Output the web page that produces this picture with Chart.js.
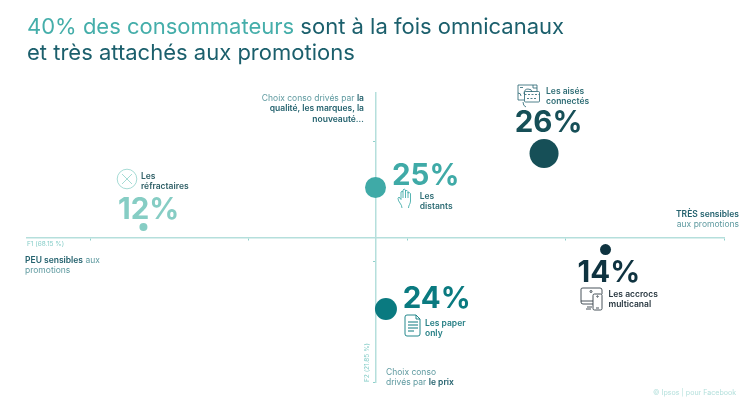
<!DOCTYPE html>
<html lang="fr">
<head>
<meta charset="utf-8">
<title>Ipsos pour Facebook</title>
<script src="https://cdn.jsdelivr.net/npm/chart.js@4"></script>
<style>
html,body{margin:0;padding:0;background:#fff;}
#page{position:relative;width:750px;height:409px;overflow:hidden;font-family:Inter,sans-serif;}
#cv{position:absolute;left:0;top:0;}
.t{position:absolute;white-space:nowrap;font-size:8.5px;line-height:10.4px;color:#5f9aa0;}
.t b{font-weight:600;color:#24626e;}
#titre{left:27px;top:13px;font-size:22px;line-height:26px;color:#1b5f6c;}
#titre span{color:#45aeaa;}
svg{position:absolute;fill:none;}
</style>
</head>
<body>
<div id="page">
<canvas id="cv" width="750" height="409"></canvas>
<div class="t" id="titre"><span>40% des consommateurs</span> sont à la fois omnicanaux<br>et très attachés aux promotions</div>
<div class="t" style="right:386px;top:93px;text-align:right">Choix conso drivés par <b>la<br>qualité, les marques, la<br>nouveauté…</b></div>
<div class="t" style="right:11px;top:209px;text-align:right"><b>TRÈS sensibles</b><br>aux promotions</div>
<div class="t" style="left:25px;top:255px"><b>PEU sensibles</b> aux<br>promotions</div>
<div class="t" style="left:386px;top:367px">Choix conso<br>drivés par <b>le prix</b></div>
<div class="t" style="left:27px;top:240px;font-size:6.5px;line-height:8px;color:#86cdc8">F1 (68.15 %)</div>
<div class="t" style="left:363px;top:382px;font-size:6.5px;line-height:8px;color:#86cdc8;transform-origin:0 0;transform:rotate(-90deg)">F2 (21.85 %)</div>
<div class="t" style="left:653px;top:388px;font-size:7.1px;color:#b4e0dc">© Ipsos | pour Facebook</div>

<svg style="left:116px;top:168px" width="22" height="22" stroke="#8fd2ca" stroke-width="0.8"><circle cx="11" cy="11" r="9.8"/><path d="M6 6L16 16M16 6L6 16"/></svg>
<svg style="left:397px;top:187px" width="18" height="23" stroke="#45aeaa" stroke-width="0.9"><path d="M5 21C5 17 1 15 1 11.500L2 10L4 12.500V5Q5 3.500 6 5V3Q7 1 8.500 3V4Q10 2.500 11 4.500V6Q12.500 5 13.500 6.500V14C13.500 17 11.500 18 11.500 21M6 5V11M8.500 3V11M11 5V11"/></svg>
<svg style="left:516px;top:84px" width="25" height="24" stroke="#24626e" stroke-width="0.8"><path d="M8 16H2V1H21V7M4 3.500H7M17 1V4H21M2 9Q5 9 5 12"/><path d="M8 10Q8 5 12 5T16 8"/><rect x="8.500" y="7.500" width="15" height="10.500" rx="1"/><path d="M8.500 10.500H23.500M11 14.500H21" stroke-dasharray="2 1.500"/><path d="M7 18Q7 22 10 23"/></svg>
<svg style="left:580px;top:287px" width="24" height="24" stroke="#333f48" stroke-width="0.9"><path d="M13 17H3Q1 17 1 15V2Q1 1 3 1H20Q22 1 22 3V7M1 14H13M7 20H12M6 22H11"/><rect x="13" y="7" width="9" height="16" rx="1.500"/><path d="M16 21H19"/><circle cx="11" cy="4.500" r="1"/><circle cx="17.500" cy="9.500" r="0.700"/></svg>
<svg style="left:404px;top:314px" width="18" height="23" stroke="#0c7a80" stroke-width="0.9"><path d="M12 1H3Q1 1 1 3V20Q1 22 3 22H14Q16 22 16 20V5ZM12 1V5H16"/><path d="M4 8H14M4 11H14M4 14H14M4 17H10" stroke-width="1.100"/></svg>
</div>
<script>
var segments=[["Les","réfractaires"],["Les","distants"],["Les aisés","connectés"],["Les accrocs","multicanal"],["Les paper","only"]];
var parts=[12,25,26,14,24];
var f1=[-1.465,0,1.064,1.452,0.066];
var f2=[0.087,0.415,0.698,-0.100,-0.594];
var f1Ticks=[-1.8,-0.8,0.2,1.2,2.2];
var f2Ticks=[-1.2,-0.2,0.8];

var rayons=[4,10.5,14.5,5.5,11];
var couleurs=["#86cdc4","#3faaa7","#164f57","#0f3340","#0a7a80"];
var couleursNoms=["#2f5f66","#2f6d75","#2f6d75","#27363f","#267f85"];
var decalPart=[[-25.5,-8],[16.5,-2.5],[-29.3,-21],[-28,32.8],[16.7,-1]];
var decalNom=[[-2.5,-48],[44.2,11.5],[2,-59.5],[3,47.5],[39,16.5]];

var pts=[];
for(var i=0;i<parts.length;i++){
	pts.push({x:f1[i],y:f2[i]});
}

var etiquettes={
	id:"etiquettes",
	afterDatasetsDraw:function(chart){
		var ctx=chart.ctx;
		var meta=chart.getDatasetMeta(0);
		ctx.save();
		ctx.textAlign="left";
		ctx.textBaseline="alphabetic";
		for(var i=0;i<parts.length;i++){
			var p=meta.data[i];
			ctx.fillStyle=couleurs[i];
			ctx.font="700 29.5px Inter";
			ctx.fillText(parts[i]+"%",p.x+decalPart[i][0],p.y+decalPart[i][1]);
			ctx.fillStyle=couleursNoms[i];
			ctx.font="600 8.5px Inter";
			ctx.fillText(segments[i][0],p.x+decalNom[i][0],p.y+decalNom[i][1]);
			ctx.fillText(segments[i][1],p.x+decalNom[i][0],p.y+decalNom[i][1]+10.4);
		}
		ctx.restore();
	}
};

new Chart(document.getElementById("cv"),{
	type:"scatter",
	data:{
		datasets:[{
			data:pts,
			pointRadius:rayons,
			pointHoverRadius:rayons,
			pointBackgroundColor:couleurs,
			pointBorderWidth:0
		}]
	},
	options:{
		responsive:false,
		animation:false,
		layout:{padding:{left:27,right:26,top:93,bottom:27}},
		plugins:{legend:{display:false},tooltip:{enabled:false}},
		scales:{
			x:{
				type:"linear",
				min:-2.2,max:2.2,
				position:{y:0},
				border:{color:"#b5dfdc",width:1.5},
				grid:{drawOnChartArea:false,drawTicks:true,tickLength:2,color:"#8fd0cb"},
				ticks:{display:false},
				afterBuildTicks:function(a){a.ticks=f1Ticks.map(function(v){return {value:v};});}
			},
			y:{
				type:"linear",
				min:-1.2,max:1.2,
				position:{x:0},
				border:{color:"#b5dfdc",width:1.5},
				grid:{drawOnChartArea:false,drawTicks:true,tickLength:2,color:"#8fd0cb"},
				ticks:{display:false},
				afterBuildTicks:function(a){a.ticks=f2Ticks.map(function(v){return {value:v};});}
			}
		}
	},
	plugins:[etiquettes]
});
</script>
</body>
</html>
